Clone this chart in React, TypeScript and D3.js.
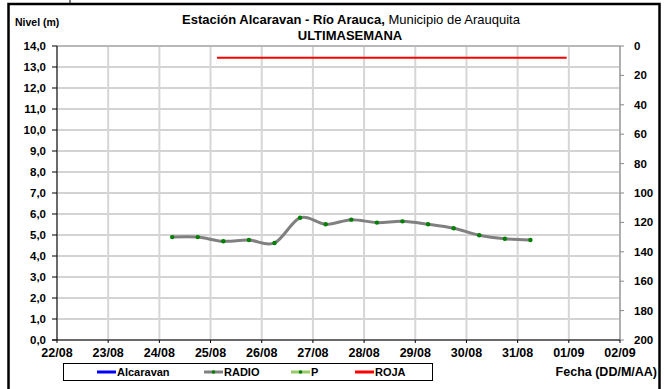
import React from "react";
import * as d3 from "d3";

const xTickLabels = ["22/08","23/08","24/08","25/08","26/08","27/08","28/08","29/08","30/08","31/08","01/09","02/09"];
const leftTicks = [0,1,2,3,4,5,6,7,8,9,10,11,12,13,14];
const rightTicks = [0,20,40,60,80,100,120,140,160,180,200];

const radioDates = [
  "2025-08-24T06:00Z","2025-08-24T18:00Z","2025-08-25T06:00Z","2025-08-25T18:00Z",
  "2025-08-26T06:00Z","2025-08-26T18:00Z","2025-08-27T06:00Z","2025-08-27T18:00Z",
  "2025-08-28T06:00Z","2025-08-28T18:00Z","2025-08-29T06:00Z","2025-08-29T18:00Z",
  "2025-08-30T06:00Z","2025-08-30T18:00Z","2025-08-31T06:00Z"
];
const radioValues = [4.90,4.90,4.70,4.76,4.62,5.82,5.51,5.73,5.59,5.65,5.51,5.32,4.99,4.82,4.76];

const rojaDates = ["2025-08-25T03:00Z","2025-08-31T23:00Z"];
const rojaValues = [8, 8];

const legendItems = ["Alcaravan","RADIO","P","ROJA"];

const W = 666, H = 389;
const plot = { left: 57, right: 620, top: 46, bottom: 340 };
const font = "'Liberation Sans', Arial, sans-serif";

export default function App() {
  const x = d3.scaleUtc()
    .domain([new Date("2025-08-22T00:00Z"), new Date("2025-09-02T00:00Z")])
    .range([plot.left, plot.right]);
  const y = d3.scaleLinear().domain([0, 14]).range([plot.bottom, plot.top]);
  const y2 = d3.scaleLinear().domain([0, 200]).range([plot.top, plot.bottom]);
  const days = d3.utcDay.range(new Date("2025-08-22T00:00Z"), new Date("2025-09-02T12:00Z"));

  const radio = radioDates.map((d, i) => ({ d: new Date(d), v: radioValues[i] }));
  const roja = rojaDates.map((d, i) => ({ d: new Date(d), v: rojaValues[i] }));

  const radioLine = d3.line<any>().x(p => x(p.d)).y(p => y(p.v)).curve(d3.curveCardinal.tension(0));
  const rojaLine = d3.line<any>().x(p => x(p.d)).y(p => y2(p.v));

  const legendX = [97, 204, 291, 355];
  const legendColors = ["#0000ff", "#808080", "#99cc66", "#ff0000"];

  return (
    <svg width={W} height={H} style={{ position: "absolute", left: 0, top: 0, background: "#fff" }} fontFamily={font}>
      <rect x={0} y={0} width={W} height={H} fill="#fff" />
      <line x1={70} y1={0} x2={70} y2={4} stroke="#000" strokeWidth={1} />
      <rect x={8.5} y={4} width={651} height={400} fill="none" stroke="#000" strokeWidth={2.5} />

      {/* grid */}
      {leftTicks.map(t => (
        <line key={"h" + t} x1={plot.left} x2={plot.right} y1={y(t)} y2={y(t)} stroke="#c4c4c4" strokeWidth={1.3} />
      ))}
      {days.map((d, i) => (
        <line key={"v" + i} x1={x(d)} x2={x(d)} y1={plot.top} y2={plot.bottom} stroke="#d6d6d6" strokeWidth={2} />
      ))}
      <line x1={plot.left} x2={plot.right} y1={plot.top} y2={plot.top} stroke="#b8b8b8" strokeWidth={2} />

      {/* axes */}
      <line x1={plot.right} x2={plot.right} y1={plot.top} y2={plot.bottom} stroke="#888" strokeWidth={1} />
      {rightTicks.map(t => (
        <g key={"r" + t}>
          <line x1={plot.right} x2={plot.right + 4} y1={y2(t)} y2={y2(t)} stroke="#888" />
          <text x={634} y={y2(t) + 4} fontSize={11.5} fontWeight="bold">{t}</text>
        </g>
      ))}
      <line x1={plot.left} x2={plot.left} y1={plot.top} y2={plot.bottom} stroke="#000" strokeWidth={1} />
      {leftTicks.map(t => (
        <g key={"l" + t}>
          <line x1={plot.left - 5} x2={plot.left} y1={y(t)} y2={y(t)} stroke="#000" />
          <text x={46} y={y(t) + 4} fontSize={11.5} fontWeight="bold" textAnchor="end">{t.toFixed(1).replace(".", ",")}</text>
        </g>
      ))}
      <line x1={plot.left - 5} x2={plot.right} y1={plot.bottom} y2={plot.bottom} stroke="#000" strokeWidth={1} />
      {days.map((d, i) => (
        <g key={"x" + i}>
          <line x1={x(d)} x2={x(d)} y1={plot.bottom} y2={plot.bottom + 3} stroke="#000" />
          <text x={x(d)} y={356.5} fontSize={12.5} fontWeight="bold" textAnchor="middle">{xTickLabels[i]}</text>
        </g>
      ))}

      {/* series */}
      <path d={rojaLine(roja) || ""} fill="none" stroke="#ff0000" strokeWidth={2} />
      <path d={radioLine(radio) || ""} fill="none" stroke="#808080" strokeWidth={3} />
      {radio.map((p, i) => (
        <circle key={"c" + i} cx={x(p.d)} cy={y(p.v)} r={2.2} fill="#008000" />
      ))}

      {/* titles */}
      <text x={15} y={26} fontSize={10.5} fontWeight="bold">Nivel (m)</text>
      <text x={351} y={24} fontSize={13} textAnchor="middle">
        <tspan fontWeight="bold">Estación Alcaravan - Río Arauca,</tspan>
        <tspan> Municipio de Arauquita</tspan>
      </text>
      <text x={350} y={39.5} fontSize={13} fontWeight="bold" textAnchor="middle">ULTIMASEMANA</text>
      <text x={657} y={375.5} fontSize={12.5} fontWeight="bold" textAnchor="end">Fecha (DD/M/AA)</text>

      {/* legend */}
      <rect x={63.5} y={363.5} width={369} height={17} fill="#fff" stroke="#000" strokeWidth={1} />
      {legendItems.map((name, i) => (
        <g key={"lg" + i}>
          <line x1={legendX[i]} x2={legendX[i] + 19} y1={372} y2={372} stroke={legendColors[i]} strokeWidth={3} />
          {(i === 1 || i === 2) && <circle cx={legendX[i] + 9.5} cy={372} r={1.8} fill="#008000" />}
          <text x={legendX[i] + 20} y={376} fontSize={11} fontWeight="bold">{name}</text>
        </g>
      ))}
    </svg>
  );
}
